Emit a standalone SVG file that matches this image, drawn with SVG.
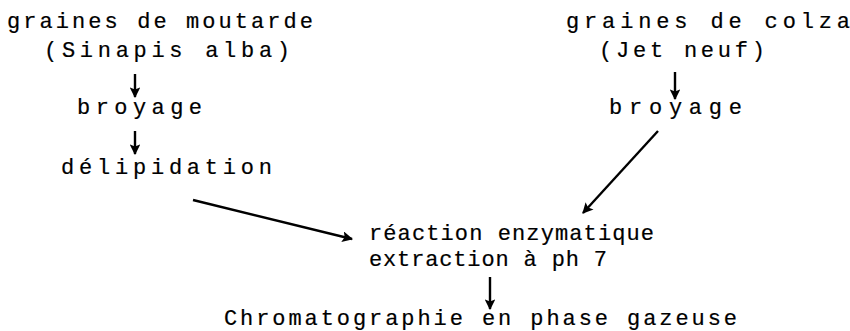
<svg xmlns="http://www.w3.org/2000/svg" width="850" height="331" viewBox="0 0 850 331">
<defs>
<marker id="ah" viewBox="0 0 10 10" refX="9" refY="5" markerWidth="4.5" markerHeight="4.5" orient="auto" markerUnits="strokeWidth">
<path d="M0,0 L10,5 L0,10 L2,5 Z" fill="#000"/>
</marker>
<style>
text{font-family:"Liberation Mono","DejaVu Sans Mono",monospace;font-size:22px;fill:#000;stroke:#000;stroke-width:0.2}
.c{stroke:#000;stroke-width:2.4;fill:none;marker-end:url(#ah)}
</style>
</defs>
<rect width="850" height="331" fill="#fff"/>
<g id="moutarde"><text x="7" y="28" textLength="306" lengthAdjust="spacing">graines de moutarde</text>
<text x="44" y="57" textLength="246" lengthAdjust="spacing">(Sinapis alba)</text></g>
<g id="broyage1"><text x="77" y="114" textLength="125" lengthAdjust="spacing">broyage</text></g>
<g id="delipidation"><text x="61" y="174" textLength="211" lengthAdjust="spacing">délipidation</text></g>
<g id="colza"><text x="566" y="28" textLength="284" lengthAdjust="spacing">graines de colza</text>
<text x="599" y="57" textLength="166" lengthAdjust="spacing">(Jet neuf)</text></g>
<g id="broyage2"><text x="609" y="114" textLength="133" lengthAdjust="spacing">broyage</text></g>
<g id="reaction"><text x="369" y="240" textLength="285" lengthAdjust="spacing">réaction enzymatique</text>
<text x="369" y="266" textLength="238" lengthAdjust="spacing">extraction à ph 7</text></g>
<g id="chromato"><text x="224" y="325" textLength="513" lengthAdjust="spacing">Chromatographie en phase gazeuse</text></g>
<g id="connectors">
<path class="c" d="M135,74 L135,97"/>
<path class="c" d="M135,131 L135,154"/>
<path class="c" d="M675,72 L675,99"/>
<path class="c" d="M193,200 L352,239"/>
<path class="c" d="M658,131 L583,213"/>
<path class="c" d="M490,277 L490,309"/>
</g>
</svg>
